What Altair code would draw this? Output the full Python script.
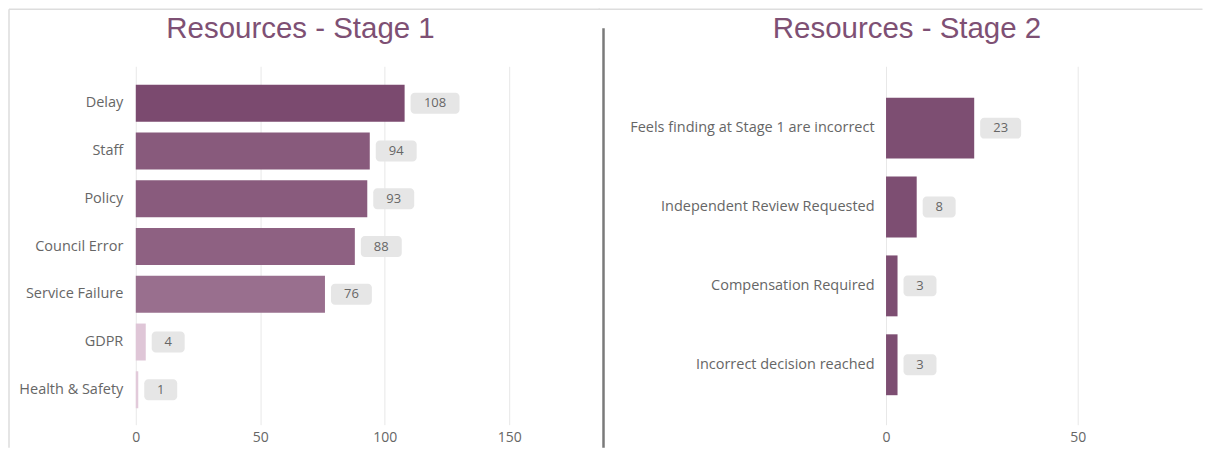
import altair as alt
import pandas as pd

# ---- data ----
cats1 = ["Delay", "Staff", "Policy", "Council Error", "Service Failure", "GDPR", "Health & Safety"]
vals1 = [108, 94, 93, 88, 76, 4, 1]
cats2 = ["Feels finding at Stage 1 are incorrect", "Independent Review Requested",
         "Compensation Required", "Incorrect decision reached"]
vals2 = [23, 8, 3, 3]
ticks1 = [0, 50, 100, 150]
ticks2 = [0, 50]
title1 = "Resources - Stage 1"
title2 = "Resources - Stage 2"

df1 = pd.DataFrame({"cat": cats1, "value": vals1})
df2 = pd.DataFrame({"cat": cats2, "value": vals2})

FONT = "Segoe UI, Open Sans, Noto Sans, sans-serif"
TFONT = "Liberation Sans, Arial, sans-serif"
BOXW = "(25 + 8*length(toString(datum.value)))"
LABEL = "#666666"


def title_mark(text, xc):
    return alt.Chart(pd.DataFrame({"t": [text]})).mark_text(
        fontSize=29.5, font=TFONT, color="#7E5074", align="center", baseline="alphabetic"
    ).encode(text="t:N", x=alt.value(xc), y=alt.value(-28))


def panel(df, cats, ticks, xmax, width, pin, pout, align, title, txc, color, lpad, deco):
    yenc = alt.Y("cat:N", sort=cats, title=None,
                 scale=alt.Scale(paddingInner=pin, paddingOuter=pout, align=align),
                 axis=alt.Axis(ticks=False, domain=False, labelPadding=lpad, labelFontSize=14.5,
                               labelColor=LABEL, labelFont=FONT, labelLimit=400, grid=False))
    xenc = alt.X("value:Q", title=None, scale=alt.Scale(domain=[0, xmax], nice=False),
                 axis=alt.Axis(values=ticks, grid=True, gridColor="#E8E8E8", ticks=False,
                               domain=False, labelFontSize=14, labelColor=LABEL, labelFont=FONT,
                               labelPadding=6, labelFlush=False))
    base = alt.Chart(df)
    bars = base.mark_bar().encode(y=yenc, x=xenc, color=color)
    box = base.mark_bar(height=21, cornerRadius=4, color="#E6E6E6", xOffset=6,
                        x2Offset=alt.ExprRef(expr="6 + " + BOXW)).encode(
        y=alt.Y("cat:N", sort=cats), x="value:Q", x2="value:Q")
    txt = base.mark_text(align="center", baseline="middle", fontSize=13, color=LABEL, font=FONT,
                         dx=alt.ExprRef(expr="6 + " + BOXW + "/2")).encode(
        y=alt.Y("cat:N", sort=cats), x="value:Q", text="value:Q")
    layers = [bars, box, txt, title_mark(title, txc)] + deco
    return alt.layer(*layers).properties(width=width, height=359)


def rule(x, x2, y, y2, col, w):
    return alt.Chart(pd.DataFrame({"k": [0]})).mark_rule(color=col, strokeWidth=w).encode(
        x=alt.value(x), x2=alt.value(x2), y=alt.value(y), y2=alt.value(y2))


deco1 = [
    rule(-127, -127, -57, 382, "#DDDDDD", 1.5),
    rule(-127, 465, -57, -57, "#DDDDDD", 1.5),
]
deco2 = [
    rule(-283, -283, -38, 382, "#7A7A7A", 2.5),
    rule(-288, 317, -57, -57, "#DDDDDD", 1.5),
]

color1 = alt.Color("value:Q", scale=alt.Scale(domain=[1, 108], range=["#E2CADA", "#7B4A6F"]),
                   legend=None)
color2 = alt.value("#7D4E72")

p1 = panel(df1, cats1, ticks1, 150, 374, 0.226, 0.366, 0.53, title1, 165, color1, 13, deco1)
p2 = panel(df2, cats2, ticks2, 50, 192, 0.228, 0.386, 0.516, title2, 21, color2, 12, deco2)

chart = alt.hconcat(p1, p2, spacing=-3.5).properties(padding=0).configure_view(stroke=None)

chart.save("out.html", embed_options={"renderer": "svg", "actions": False})
